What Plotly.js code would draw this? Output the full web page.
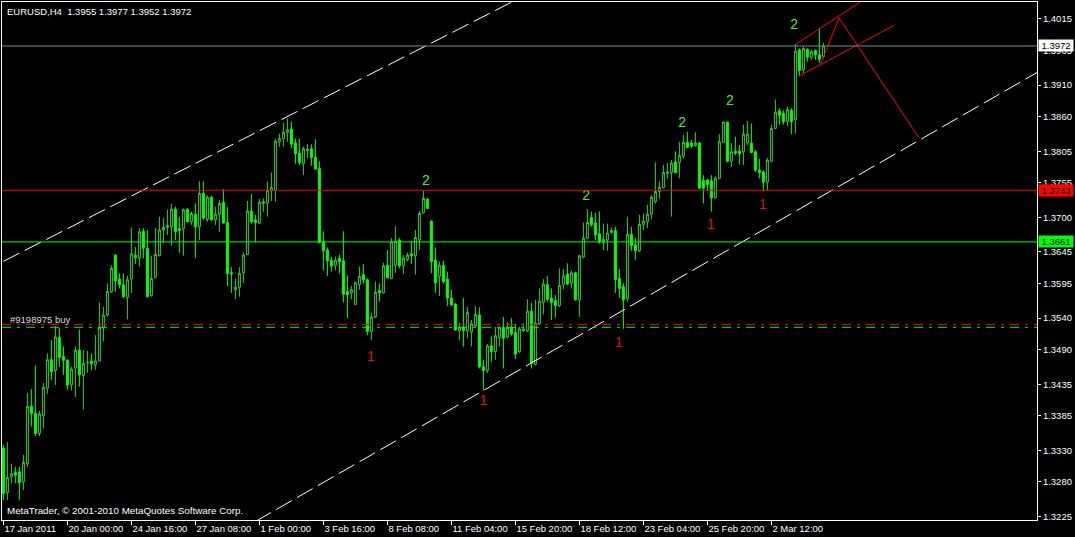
<!DOCTYPE html>
<html>
<head>
<meta charset="utf-8">
<script src="https://cdn.plot.ly/plotly-3.0.1.min.js"></script>
<style>html,body{margin:0;padding:0;background:#000;}#chart{width:1075px;height:537px;}</style>
</head>
<body>
<div id="chart"></div>
<script>
// ---- OHLC data (EURUSD, H4), one entry per bar ----
const barOpen = [1.3334,1.3263,1.3288,1.3295,1.3296,1.3280,1.3309,1.3400,1.3389,1.3357,1.3385,1.3429,1.3474,1.3457,1.3509,1.3479,1.3473,1.3434,1.3461,1.3489,1.3449,1.3469,1.3472,1.3466,1.3472,1.3525,1.3545,1.3582,1.3640,1.3602,1.3593,1.3573,1.3602,1.3640,1.3635,1.3678,1.3651,1.3576,1.3605,1.3639,1.3680,1.3684,1.3685,1.3713,1.3682,1.3682,1.3713,1.3693,1.3705,1.3685,1.3738,1.3697,1.3732,1.3696,1.3705,1.3724,1.3692,1.3612,1.3585,1.3589,1.3612,1.3641,1.3710,1.3696,1.3691,1.3722,1.3723,1.3742,1.3743,1.3820,1.3825,1.3835,1.3840,1.3818,1.3802,1.3785,1.3806,1.3809,1.3795,1.3778,1.3661,1.3648,1.3632,1.3624,1.3635,1.3631,1.3582,1.3580,1.3562,1.3593,1.3609,1.3601,1.3519,1.3542,1.3584,1.3580,1.3624,1.3603,1.3624,1.3664,1.3623,1.3633,1.3642,1.3639,1.3664,1.3707,1.3729,1.3694,1.3632,1.3606,1.3624,1.3602,1.3572,1.3562,1.3520,1.3526,1.3520,1.3518,1.3528,1.3545,1.3463,1.3457,1.3496,1.3487,1.3509,1.3525,1.3510,1.3526,1.3517,1.3487,1.3520,1.3520,1.3551,1.3467,1.3531,1.3565,1.3593,1.3572,1.3568,1.3560,1.3593,1.3610,1.3596,1.3612,1.3569,1.3637,1.3667,1.3700,1.3691,1.3674,1.3660,1.3664,1.3676,1.3679,1.3603,1.3590,1.3571,1.3673,1.3656,1.3647,1.3689,1.3693,1.3705,1.3725,1.3741,1.3747,1.3770,1.3771,1.3788,1.3787,1.3797,1.3819,1.3818,1.3814,1.3818,1.3759,1.3759,1.3758,1.3731,1.3762,1.3819,1.3851,1.3789,1.3805,1.3805,1.3804,1.3818,1.3818,1.3804,1.3775,1.3772,1.3756,1.3789,1.3841,1.3869,1.3865,1.3852,1.3870,1.3855,1.3966,1.3934,1.3967,1.3954,1.3965,1.3958,1.3955];
const barHigh = [1.3339,1.3343,1.3309,1.3304,1.3304,1.3323,1.3421,1.3427,1.3465,1.3393,1.3437,1.3484,1.3505,1.3527,1.3524,1.3495,1.3475,1.3463,1.3495,1.3522,1.3489,1.3488,1.3484,1.3513,1.3565,1.3558,1.3595,1.3624,1.3642,1.3611,1.3611,1.3607,1.3684,1.3653,1.3683,1.3683,1.3680,1.3639,1.3683,1.3701,1.3699,1.3712,1.3721,1.3717,1.3701,1.3714,1.3714,1.3709,1.3722,1.3757,1.3757,1.3735,1.3734,1.3717,1.3728,1.3745,1.3716,1.3621,1.3603,1.3621,1.3644,1.3726,1.3737,1.3704,1.3729,1.3730,1.3757,1.3771,1.3825,1.3833,1.3850,1.3857,1.3852,1.3825,1.3825,1.3812,1.3816,1.3816,1.3824,1.3789,1.3678,1.3652,1.3637,1.3638,1.3641,1.3678,1.3608,1.3591,1.3598,1.3622,1.3626,1.3603,1.3548,1.3598,1.3595,1.3628,1.3648,1.3667,1.3686,1.3667,1.3640,1.3644,1.3662,1.3680,1.3710,1.3742,1.3730,1.3695,1.3652,1.3630,1.3631,1.3614,1.3585,1.3564,1.3533,1.3572,1.3558,1.3537,1.3559,1.3557,1.3474,1.3499,1.3511,1.3526,1.3526,1.3542,1.3534,1.3540,1.3531,1.3526,1.3532,1.3570,1.3564,1.3569,1.3587,1.3602,1.3607,1.3587,1.3577,1.3619,1.3618,1.3627,1.3616,1.3614,1.3640,1.3692,1.3713,1.3709,1.3707,1.3709,1.3690,1.3690,1.3684,1.3685,1.3618,1.3595,1.3701,1.3685,1.3667,1.3704,1.3706,1.3720,1.3735,1.3787,1.3757,1.3783,1.3786,1.3791,1.3805,1.3820,1.3831,1.3836,1.3823,1.3835,1.3819,1.3767,1.3761,1.3767,1.3765,1.3832,1.3853,1.3852,1.3818,1.3828,1.3815,1.3847,1.3853,1.3849,1.3807,1.3793,1.3775,1.3794,1.3847,1.3887,1.3873,1.3870,1.3876,1.3873,1.3975,1.3968,1.3971,1.3968,1.3966,1.3966,1.4001,1.3977];
const barLow = [1.3251,1.3251,1.3278,1.3278,1.3251,1.3267,1.3304,1.3368,1.3353,1.3353,1.3365,1.3420,1.3442,1.3434,1.3463,1.3450,1.3426,1.3425,1.3415,1.3431,1.3395,1.3453,1.3457,1.3458,1.3472,1.3503,1.3542,1.3580,1.3582,1.3587,1.3572,1.3538,1.3580,1.3626,1.3622,1.3635,1.3573,1.3574,1.3603,1.3638,1.3659,1.3672,1.3655,1.3664,1.3644,1.3639,1.3692,1.3688,1.3635,1.3664,1.3696,1.3693,1.3695,1.3688,1.3677,1.3690,1.3591,1.3580,1.3570,1.3574,1.3596,1.3640,1.3690,1.3660,1.3689,1.3709,1.3701,1.3726,1.3725,1.3812,1.3812,1.3820,1.3810,1.3785,1.3783,1.3767,1.3794,1.3782,1.3775,1.3659,1.3616,1.3607,1.3614,1.3616,1.3611,1.3565,1.3540,1.3570,1.3561,1.3585,1.3595,1.3513,1.3505,1.3540,1.3566,1.3579,1.3603,1.3602,1.3612,1.3619,1.3610,1.3630,1.3626,1.3609,1.3648,1.3706,1.3713,1.3611,1.3580,1.3575,1.3595,1.3559,1.3559,1.3520,1.3505,1.3495,1.3508,1.3495,1.3526,1.3460,1.3426,1.3453,1.3471,1.3474,1.3495,1.3460,1.3508,1.3512,1.3475,1.3485,1.3518,1.3518,1.3460,1.3465,1.3529,1.3546,1.3566,1.3537,1.3541,1.3558,1.3586,1.3593,1.3587,1.3568,1.3542,1.3635,1.3665,1.3685,1.3664,1.3658,1.3648,1.3647,1.3674,1.3580,1.3572,1.3523,1.3566,1.3647,1.3632,1.3645,1.3680,1.3683,1.3697,1.3722,1.3730,1.3746,1.3761,1.3701,1.3770,1.3762,1.3793,1.3810,1.3810,1.3812,1.3745,1.3722,1.3742,1.3709,1.3730,1.3761,1.3818,1.3788,1.3780,1.3799,1.3784,1.3783,1.3815,1.3802,1.3772,1.3762,1.3741,1.3742,1.3788,1.3841,1.3847,1.3847,1.3845,1.3832,1.3833,1.3924,1.3928,1.3947,1.3950,1.3950,1.3945,1.3952];
const barClose = [1.3262,1.3287,1.3293,1.3291,1.3279,1.3311,1.3400,1.3389,1.3357,1.3388,1.3430,1.3474,1.3455,1.3510,1.3478,1.3473,1.3434,1.3459,1.3489,1.3450,1.3468,1.3470,1.3468,1.3472,1.3525,1.3545,1.3582,1.3619,1.3599,1.3593,1.3574,1.3601,1.3642,1.3636,1.3677,1.3651,1.3574,1.3603,1.3641,1.3680,1.3684,1.3687,1.3713,1.3677,1.3679,1.3712,1.3693,1.3706,1.3685,1.3738,1.3699,1.3732,1.3696,1.3705,1.3722,1.3691,1.3611,1.3610,1.3589,1.3611,1.3640,1.3710,1.3693,1.3692,1.3724,1.3725,1.3743,1.3747,1.3821,1.3825,1.3835,1.3839,1.3816,1.3801,1.3787,1.3809,1.3808,1.3795,1.3777,1.3660,1.3647,1.3631,1.3623,1.3632,1.3630,1.3578,1.3577,1.3585,1.3596,1.3606,1.3601,1.3519,1.3542,1.3581,1.3580,1.3623,1.3604,1.3661,1.3662,1.3623,1.3635,1.3640,1.3639,1.3668,1.3706,1.3730,1.3714,1.3630,1.3596,1.3624,1.3598,1.3572,1.3561,1.3521,1.3525,1.3520,1.3549,1.3531,1.3546,1.3463,1.3457,1.3496,1.3487,1.3512,1.3525,1.3508,1.3525,1.3515,1.3483,1.3523,1.3523,1.3551,1.3468,1.3532,1.3567,1.3594,1.3570,1.3565,1.3560,1.3592,1.3607,1.3594,1.3612,1.3569,1.3639,1.3667,1.3692,1.3688,1.3672,1.3661,1.3665,1.3675,1.3679,1.3601,1.3587,1.3569,1.3673,1.3655,1.3647,1.3689,1.3694,1.3705,1.3732,1.3741,1.3748,1.3771,1.3772,1.3786,1.3771,1.3798,1.3819,1.3811,1.3813,1.3818,1.3746,1.3746,1.3752,1.3731,1.3762,1.3820,1.3851,1.3789,1.3804,1.3802,1.3801,1.3832,1.3832,1.3803,1.3775,1.3771,1.3756,1.3791,1.3841,1.3867,1.3862,1.3852,1.3871,1.3852,1.3964,1.3933,1.3968,1.3954,1.3963,1.3958,1.3951,1.3972];

// ---- x axis (bar index) tick labels ----
const xTickBars = [0,16,32,48,64,80,96,112,128,144,160,176,192];
const xTickLabels = ["17 Jan 2011","20 Jan 00:00","24 Jan 16:00","27 Jan 08:00","1 Feb 00:00","3 Feb 16:00","8 Feb 08:00","11 Feb 04:00","15 Feb 20:00","18 Feb 12:00","23 Feb 04:00","25 Feb 20:00","2 Mar 12:00"];

// ---- price axis labels ----
const yTickPrices = [1.4015,1.3965,1.3910,1.3860,1.3805,1.3755,1.3700,1.3645,1.3595,1.3540,1.3490,1.3435,1.3385,1.3330,1.3280,1.3225];

// ---- horizontal levels ----
const bidPrice = 1.3972;
const resistancePrice = 1.3743;
const supportPrice = 1.3661;
const orderRedPrice = 1.3530;
const orderGreenPrice = 1.35255;

// ---- trend lines (bar index, price) ----
const upperTrendX = [0, 130];
const upperTrendY = [1.36302, 1.40511];
const lowerTrendX = [63, 258.5];
const lowerTrendY = [1.32172, 1.39302];
const forkUpperX = [198.15, 214.5];
const forkUpperY = [1.39747, 1.40430];
const forkLowerX = [198.98, 222.7];
const forkLowerY = [1.39244, 1.40048];
const zigzagX = [204.15, 208.9, 228.9];
const zigzagY = [1.39407, 1.40169, 1.38264];

// ---- wave labels ----
const waveX = [105.65, 145.7, 169.7, 181.65, 197.7, 91.9, 119.97, 153.9, 176.9, 189.9];
const waveY = [1.37566, 1.37328, 1.38493, 1.38836, 1.40053, 1.34783, 1.34074, 1.34990, 1.36867, 1.37185];
const waveText = ["2","2","2","2","2","1","1","1","1","1"];

const bars = barOpen.map((_, i) => i);
const FONT = "'Liberation Sans', Arial, sans-serif";
const waveColors = waveText.map(t => t === "2" ? "#5ee62a" : "#e01010");

const traces = [
  {
    type: "candlestick", x: bars, open: barOpen, high: barHigh, low: barLow, close: barClose,
    increasing: {line: {color: "#32cd32", width: 1}, fillcolor: "#000000"},
    decreasing: {line: {color: "#00ff00", width: 1}, fillcolor: "#00ff00"},
    whiskerwidth: 0, hoverinfo: "skip", showlegend: false
  },
  {type: "scatter", mode: "lines", x: upperTrendX, y: upperTrendY, line: {color: "#ffffff", width: 1, dash: "18px,6px"}, hoverinfo: "skip"},
  {type: "scatter", mode: "lines", x: lowerTrendX, y: lowerTrendY, line: {color: "#ffffff", width: 1, dash: "18px,6px"}, hoverinfo: "skip"},
  {type: "scatter", mode: "lines", x: forkUpperX, y: forkUpperY, line: {color: "#ff0000", width: 1}, hoverinfo: "skip"},
  {type: "scatter", mode: "lines", x: forkLowerX, y: forkLowerY, line: {color: "#ff0000", width: 1}, hoverinfo: "skip"},
  {type: "scatter", mode: "lines", x: zigzagX, y: zigzagY, line: {color: "#ff0000", width: 1}, hoverinfo: "skip"},
  {type: "scatter", mode: "text", x: waveX, y: waveY, text: waveText, textposition: "middle center",
   textfont: {family: FONT, size: 14, color: waveColors}, hoverinfo: "skip", cliponaxis: false}
];

function hline(price, color, dash) {
  return {type: "line", xref: "paper", x0: 0, x1: 1, yref: "y", y0: price, y1: price,
          line: {color: color, width: 1, dash: dash || "solid"}, layer: "above"};
}

function priceBox(price, bg, fg) {
  return {xref: "paper", x: 1, xanchor: "left", xshift: 1, yref: "y", y: price, yanchor: "middle",
          text: price.toFixed(4), showarrow: false, bgcolor: bg, width: 34, height: 11, borderpad: 0,
          font: {family: FONT, size: 9.5, color: fg}, align: "center"};
}

const layout = {
  width: 1075, height: 537,
  margin: {l: 2, r: 38, t: 2, b: 17, pad: 0},
  paper_bgcolor: "#000000", plot_bgcolor: "#000000",
  showlegend: false,
  font: {family: FONT, size: 9.5, color: "#ffffff"},
  xaxis: {
    range: [-0.35, 258.4], tickmode: "array", tickvals: xTickBars, ticktext: xTickLabels,
    ticks: "outside", ticklen: 4, tickcolor: "#ffffff", ticklabelposition: "outside right",
    tickangle: 0, automargin: false,
    tickfont: {family: FONT, size: 9.5, color: "#ffffff"},
    showgrid: false, zeroline: false, showline: true, linecolor: "#ffffff", linewidth: 1, mirror: true,
    rangeslider: {visible: false}, fixedrange: true
  },
  yaxis: {
    side: "right", range: [1.32196, 1.40418], tickmode: "array", tickvals: yTickPrices,
    ticktext: yTickPrices.map(v => v.toFixed(4)),
    ticks: "outside", ticklen: 3, tickcolor: "#ffffff", automargin: false,
    tickfont: {family: FONT, size: 9.5, color: "#ffffff"},
    showgrid: false, zeroline: false, showline: true, linecolor: "#ffffff", linewidth: 1, mirror: true,
    fixedrange: true
  },
  shapes: [
    hline(bidPrice, "#778899"),
    hline(resistancePrice, "#ff0000"),
    hline(supportPrice, "#00ff00"),
    hline(orderRedPrice, "#ff0000", "9px,6px,3px,6px"),
    hline(orderGreenPrice, "#00ff00", "9px,6px,3px,6px")
  ],
  annotations: [
    {xref: "paper", x: 0, xanchor: "left", xshift: 3, yref: "paper", y: 1, yanchor: "top", yshift: -2,
     text: "EURUSD,H4\u00a0\u00a01.3955 1.3977 1.3952 1.3972", showarrow: false,
     font: {family: FONT, size: 9.5, color: "#ffffff"}},
    {xref: "paper", x: 0, xanchor: "left", xshift: 3, yref: "paper", y: 0, yanchor: "bottom", yshift: 2,
     text: "MetaTrader, © 2001-2010 MetaQuotes Software Corp.", showarrow: false,
     font: {family: FONT, size: 9.8, color: "#ffffff"}},
    {xref: "paper", x: 0, xanchor: "left", xshift: 6, yref: "y", y: orderRedPrice, yanchor: "bottom", yshift: -3,
     text: "#9198975 buy", showarrow: false, font: {family: FONT, size: 9.5, color: "#dcdcdc"}},
    priceBox(bidPrice, "#ffffff", "#000000"),
    priceBox(resistancePrice, "#ff0000", "#000000"),
    priceBox(supportPrice, "#00ff00", "#000000")
  ]
};

Plotly.newPlot("chart", traces, layout, {staticPlot: true, displayModeBar: false});
</script>
</body>
</html>
